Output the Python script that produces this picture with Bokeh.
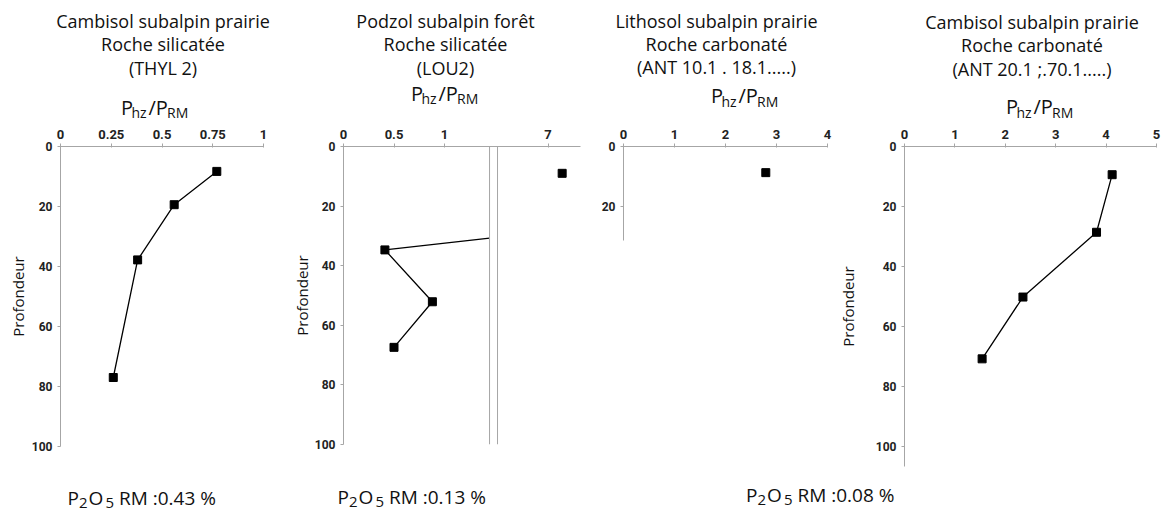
import numpy as np
from bokeh.plotting import figure
from bokeh.models import Range1d, FixedTicker, Span
from bokeh.core.properties import value
from bokeh.layouts import row, column
from bokeh.embed import file_html
from bokeh.resources import INLINE

# ---------------- data ----------------
titles = [
    ["Cambisol subalpin prairie", "Roche silicatée", "(THYL 2)"],
    ["Podzol subalpin forêt", "Roche silicatée", "(LOU2)"],
    ["Lithosol subalpin prairie", "Roche carbonaté", "(ANT 10.1 . 18.1.....)"],
    ["Cambisol subalpin prairie", "Roche carbonaté", "(ANT 20.1 ;.70.1.....)"],
]
p2o5_values = ["0.43", "0.13", "0.08"]
depth_title = "Profondeur"

p1_ratio = [0.77, 0.56, 0.38, 0.26]
p1_depth = [8.3, 19.4, 37.8, 77.0]
p2_ratio = [7.14, 0.41, 0.88, 0.50]
p2_depth = [9.0, 34.7, 52.1, 67.4]
p3_ratio = [2.79]
p3_depth = [8.7]
p4_ratio = [4.12, 3.81, 2.35, 1.54]
p4_depth = [9.4, 28.6, 50.2, 70.8]

p1_xticks = [0, 0.25, 0.5, 0.75, 1]
p1_xlabels = ["0", "0.25", "0.5", "0.75", "1"]
p2_xticks = [0, 0.5, 1, 7]
p2_xlabels = ["0", "0.5", "1", "7"]
p3_xticks = [0, 1, 2, 3, 4]
p3_xlabels = ["0", "1", "2", "3", "4"]
p4_xticks = [0, 1, 2, 3, 4, 5]
p4_xlabels = ["0", "1", "2", "3", "4", "5"]
depth_ticks = [0, 20, 40, 60, 80, 100]
depth_labels = ["0", "20", "40", "60", "80", "100"]
p3_depth_ticks = [0, 20]
p3_depth_labels = ["0", "20"]

# broken axis of panel 2
p2_left_max = 1.446   # end of left segment
p2_right_min = 6.5    # start of right segment
p2_gap = 0.079        # gap between the two segments (display units)

# ---------------- style / layout ----------------
AXIS = "#a6a6a6"
TXT = "#111111"
TICKFONT = "Roboto"
FONT = "Open Sans"
TOP = 0
HEAD_B = 120     # bottom of the header strip (px)
FOOT_T = 481     # top of the footer strip (px)
BOTTOM = 510
LEFT, RIGHT = 0, 1161
BASE_SHIFT = 0.38  # baseline correction (fraction of the font size)


def text_fig(x0, x1, y0, y1):
    p = figure(width=int(x1 - x0), height=int(y1 - y0), title=None,
               x_range=Range1d(x0, x1), y_range=Range1d(y1, y0),
               x_axis_type=None, y_axis_type=None, min_border=0,
               output_backend="svg", toolbar_location=None)
    p.outline_line_color = None
    p.grid.visible = False
    return p


def lab(p, X, Y, text, size, align="left", color=TXT):
    p.text(x=[X], y=[Y - BASE_SHIFT * size], text=[text], text_font=value(FONT),
           text_font_size=value(f"{size}px"), text_align=align,
           text_baseline="alphabetic", text_color=color)


def make_fig(img_left, width, frame_left, frame_w, frame_top, frame_h, xr, yr, xt, xl, yt, yl,
             ylabel=None, ylabel_standoff=0):
    bl = frame_left - img_left
    bt = frame_top - HEAD_B
    H = FOOT_T - HEAD_B
    p = figure(width=width, height=H, frame_width=frame_w, frame_height=frame_h, title=None,
               x_range=Range1d(*xr), y_range=Range1d(*yr),
               output_backend="svg", toolbar_location=None, x_axis_location="above",
               min_border_left=bl, min_border_right=width - bl - frame_w,
               min_border_top=bt, min_border_bottom=H - bt - frame_h)
    p.outline_line_color = None
    p.grid.visible = False
    for ax in (p.xaxis[0], p.yaxis[0]):
        ax.axis_line_color = AXIS
        ax.major_tick_line_color = AXIS
        ax.minor_tick_line_color = None
        ax.major_label_text_font = TICKFONT
        ax.major_label_text_font_style = "bold"
        ax.major_label_text_color = "#222222"
    p.xaxis[0].major_label_text_font_size = "13px"
    p.yaxis[0].major_label_text_font_size = "12px"
    p.xaxis[0].ticker = FixedTicker(ticks=list(xt))
    p.xaxis[0].major_label_overrides = {float(t): s for t, s in zip(xt, xl)}
    p.xaxis[0].major_tick_in = 1
    p.xaxis[0].major_tick_out = 3
    p.xaxis[0].major_label_standoff = 5
    p.yaxis[0].ticker = FixedTicker(ticks=list(yt))
    p.yaxis[0].major_label_overrides = {float(t): s for t, s in zip(yt, yl)}
    p.yaxis[0].major_tick_in = 0
    p.yaxis[0].major_tick_out = 3
    p.yaxis[0].major_label_standoff = 5
    if ylabel:
        p.yaxis[0].axis_label = ylabel
        p.yaxis[0].axis_label_text_font = FONT
        p.yaxis[0].axis_label_text_font_size = "15px"
        p.yaxis[0].axis_label_text_font_style = "normal"
        p.yaxis[0].axis_label_text_color = TXT
        p.yaxis[0].axis_label_standoff = ylabel_standoff
    return p


def profile(p, xs, ys):
    p.line(xs, ys, line_color="black", line_width=1.3)
    p.scatter(xs, ys, marker="square", size=8, fill_color="black", line_color="black")


# ---------------- header strip (titles and P_hz/P_RM) ----------------
head = text_fig(LEFT, RIGHT, TOP, HEAD_B)


def title(cx, lines, bases):
    for t, b in zip(lines, bases):
        lab(head, cx, b, t, 18, align="center")


def phz(x0, base):
    lab(head, x0, base, "P", 20)
    lab(head, x0 + 10.5, base + 3, "hz", 14)
    lab(head, x0 + 27.5, base, "/P", 20)
    lab(head, x0 + 46, base + 3, "RM", 14)


title(162.5, titles[0], [27, 50.5, 74.5])
title(445, titles[1], [27, 50.5, 74])
title(716, titles[2], [27, 50.5, 73])
title(1031.5, titles[3], [28, 51.5, 75])
phz(120.5, 114.5)
phz(410.5, 100.5)
phz(710.5, 103)
phz(1005.5, 114)

# ---------------- footer strip ----------------
foot = text_fig(LEFT, RIGHT, FOOT_T, BOTTOM)


def footer(x0, base, val):
    lab(foot, x0, base, "P", 19)
    lab(foot, x0 + 11.5, base + 3.5, "2", 15)
    lab(foot, x0 + 21, base, "O", 19)
    lab(foot, x0 + 38, base + 3.5, "5", 15)
    lab(foot, x0 + 51.5, base, "RM :" + val + " %", 19)


footer(67, 505, p2o5_values[0])
footer(337, 503.5, p2o5_values[1])
footer(745.5, 502, p2o5_values[2])

# ---------------- panel 1 ----------------
f1 = make_fig(0, 288, 60, 203, 146, 300, (0, 1), (100, 0),
              p1_xticks, p1_xlabels, depth_ticks, depth_labels, depth_title, 1)
profile(f1, p1_ratio, p1_depth)

# ---------------- panel 2 (broken x axis) ----------------
gap_end = p2_left_max + p2_gap


def to_disp(v):
    return v if v <= p2_left_max else v - p2_right_min + gap_end


f2 = make_fig(288, 297, 343, 237, 144, 298, (0, 237 / 101), (100, 0),
              [to_disp(t) for t in p2_xticks], p2_xlabels, depth_ticks, depth_labels,
              depth_title, 0)
lx, ly = [], []
for i in range(len(p2_ratio)):
    x, y = p2_ratio[i], p2_depth[i]
    if x <= p2_left_max:
        if i > 0 and p2_ratio[i - 1] > p2_left_max:
            x0, y0 = p2_ratio[i - 1], p2_depth[i - 1]
            t = (p2_left_max - x) / (x0 - x)
            lx.append(p2_left_max)
            ly.append(y + t * (y0 - y))
        lx.append(x)
        ly.append(y)
f2.line(lx, ly, line_color="black", line_width=1.3)
f2.scatter([to_disp(v) for v in p2_ratio], p2_depth, marker="square", size=8,
           fill_color="black", line_color="black")
for bx in (p2_left_max, gap_end):
    f2.add_layout(Span(location=bx, dimension="height", line_color=AXIS, line_width=1))

# ---------------- panel 3 ----------------
f3 = make_fig(585, 249, 623, 204, 145, 94, (0, 4), (31.3, 0),
              p3_xticks, p3_xlabels, p3_depth_ticks, p3_depth_labels)
f3.scatter(p3_ratio, p3_depth, marker="square", size=8, fill_color="black", line_color="black")

# ---------------- panel 4 ----------------
f4 = make_fig(834, 327, 904, 252, 145, 320, (0, 5), (106.7, 0),
              p4_xticks, p4_xlabels, depth_ticks, depth_labels, depth_title, 15)
profile(f4, p4_ratio, p4_depth)

body = row(f1, f2, f3, f4, spacing=0)
layout = column(head, body, foot, spacing=0)
open("out.html", "w").write(file_html(layout, INLINE))
